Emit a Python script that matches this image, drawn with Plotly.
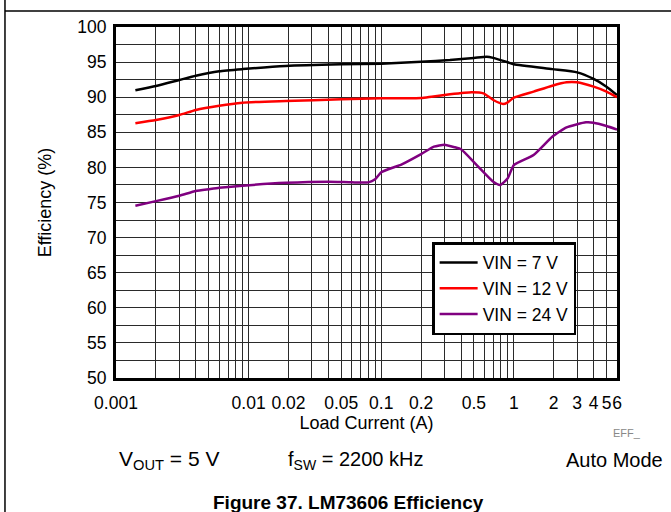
import plotly.graph_objects as go

# ---- data ----
x7 = [0.0014, 0.002, 0.003, 0.004, 0.006, 0.009, 0.019, 0.05, 0.1, 0.2, 0.33, 0.5, 0.625, 0.7, 0.9, 1.0, 1.95, 3.0, 4.0, 5.0, 6.0]
eff7 = [91.0, 91.6, 92.45, 93.06, 93.7, 94.0, 94.44, 94.68, 94.78, 95.06, 95.3, 95.6, 95.77, 95.6, 94.97, 94.69, 94.0, 93.54, 92.6, 91.5, 90.3]

x12 = [0.0014, 0.002, 0.003, 0.004, 0.006, 0.009, 0.019, 0.05, 0.1, 0.2, 0.24, 0.33, 0.48, 0.59, 0.7, 0.83, 0.9, 1.0, 1.41, 1.95, 2.5, 3.0, 4.0, 5.0, 6.0]
eff12 = [86.3, 86.75, 87.46, 88.18, 88.79, 89.22, 89.46, 89.7, 89.84, 89.89, 90.08, 90.41, 90.7, 90.55, 89.6, 89.03, 89.27, 89.93, 90.8, 91.64, 92.12, 92.12, 91.5, 90.8, 90.0]

x24 = [0.0014, 0.002, 0.003, 0.004, 0.005, 0.006, 0.009, 0.019, 0.04, 0.06, 0.08, 0.09, 0.1, 0.143, 0.2, 0.25, 0.3, 0.36, 0.40, 0.525, 0.7, 0.79, 0.9, 1.0, 1.41, 1.95, 2.5, 3.5, 4.0, 5.0, 6.0]
eff24 = [74.55, 75.2, 75.97, 76.64, 76.9, 77.1, 77.4, 77.8, 77.96, 77.87, 77.87, 78.3, 79.3, 80.44, 81.9, 82.95, 83.23, 82.86, 82.58, 80.34, 77.96, 77.5, 78.45, 80.34, 81.77, 84.37, 85.71, 86.42, 86.37, 85.9, 85.4]

series_names = ["VIN = 7 V", "VIN = 12 V", "VIN = 24 V"]
series_colors = ["#000000", "#FF0000", "#800080"]

x_tickvals = [0.001, 0.01, 0.02, 0.05, 0.1, 0.2, 0.5, 1, 2, 3, 4, 5, 6]
x_ticktext = ["0.001", "0.01", "0.02", "0.05", "0.1", "0.2", "0.5", "1", "2", "3", "4", "5", "6"]
y_tickvals = [50, 55, 60, 65, 70, 75, 80, 85, 90, 95, 100]

# grid positions: every 1..9 x decade, up to 6
x_grid = []
for dec in [0.001, 0.01, 0.1, 1]:
    for m in range(1, 10):
        v = round(m * dec, 6)
        if v <= 6 and v not in x_tickvals:
            x_grid.append(v)

FONT = "Liberation Sans, Arial, sans-serif"
GRID = "#2a2a2a"

fig = go.Figure()
for xs, ys, name, col in zip([x7, x12, x24], [eff7, eff12, eff24], series_names, series_colors):
    fig.add_trace(go.Scatter(x=xs, y=ys, mode="lines", name=name,
                             line=dict(color=col, width=2.5, shape="spline", smoothing=0.5)))

fig.update_layout(
    width=671, height=512,
    margin=dict(l=116, r=54, t=27, b=134, autoexpand=False),
    paper_bgcolor="white", plot_bgcolor="white",
    font=dict(family=FONT, size=17, color="#000000"),
    showlegend=True,
    legend=dict(x=0.631, y=0.387, xanchor="left", yanchor="top",
                bgcolor="white", bordercolor="black", borderwidth=2.5,
                font=dict(size=17.5, family=FONT), tracegroupgap=0, itemwidth=38),
    xaxis=dict(type="log", range=[-3, 0.7782], tickvals=x_tickvals, ticktext=x_ticktext,
               tickangle=0, automargin=False,
               showgrid=True, gridcolor=GRID, gridwidth=1,
               minor=dict(tickvals=x_grid, showgrid=True, gridcolor=GRID, gridwidth=1),
               showline=True, linecolor="black", linewidth=3, mirror=True,
               ticks="outside", ticklen=7, tickcolor="rgba(0,0,0,0)",
               tickfont=dict(size=17.5),
               title=dict(text="Load Current (A)", font=dict(size=18), standoff=1),
               zeroline=False),
    yaxis=dict(range=[50, 100], tickvals=y_tickvals, automargin=False,
               showgrid=True, gridcolor=GRID, gridwidth=1,
               minor=dict(dtick=2.5, showgrid=True, gridcolor=GRID, gridwidth=1),
               showline=True, linecolor="black", linewidth=3, mirror=True,
               ticks="outside", ticklen=3, tickcolor="rgba(0,0,0,0)",
               tickfont=dict(size=17.5),
               title=dict(text="Efficiency (%)", font=dict(size=18), standoff=21),
               zeroline=False),
)

# outer frame lines of the figure panel
fig.add_shape(type="line", xref="paper", yref="paper", x0=-0.2216, x1=1.11, y0=1.0456, y1=1.0456,
              line=dict(color="black", width=1.5))
fig.add_shape(type="line", xref="paper", yref="paper", x0=-0.2216, x1=-0.2216, y0=-0.40, y1=1.08,
              line=dict(color="black", width=1.5))

# annotations below the chart
fig.add_annotation(xref="paper", yref="paper", x=0.002, y=-0.235, xanchor="left", yanchor="middle",
                   text="V<sub>OUT</sub> = 5 V", showarrow=False, font=dict(size=21))
fig.add_annotation(xref="paper", yref="paper", x=0.339, y=-0.235, xanchor="left", yanchor="middle",
                   text="f<sub>SW</sub> = 2200 kHz", showarrow=False, font=dict(size=20))
fig.add_annotation(xref="paper", yref="paper", x=1.096, y=-0.235, xanchor="right", yanchor="middle",
                   text="Auto Mode", showarrow=False, font=dict(size=20))
fig.add_annotation(xref="paper", yref="paper", x=0.988, y=-0.157, xanchor="left", yanchor="middle",
                   text="EFF_", showarrow=False, font=dict(size=11, color="#888888"))
fig.add_annotation(xref="paper", yref="paper", x=0.464, y=-0.355, xanchor="center", yanchor="middle",
                   text="<b>Figure 37. LM73606 Efficiency</b>", showarrow=False, font=dict(size=19))

fig.write_html("out.html", config={"displayModeBar": False},
               post_script="document.body.style.margin='0';document.body.style.overflow='hidden';")
